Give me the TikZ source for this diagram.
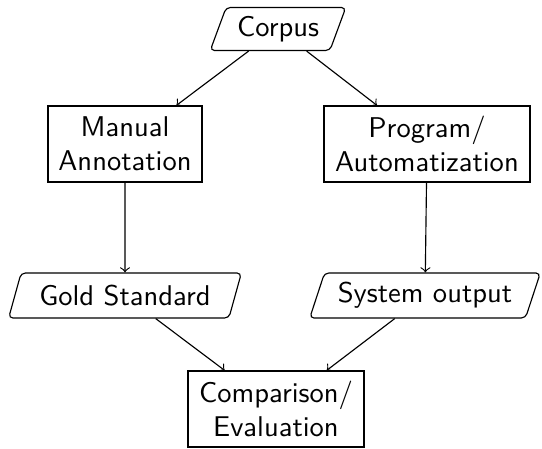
\documentclass[tikz,border=0pt]{standalone}
\usetikzlibrary{shapes.geometric}
\begin{document}
\begin{tikzpicture}[x=0.35pt,y=-0.35pt,
  font=\sffamily,
  box/.style={draw, rectangle, align=center, inner sep=0pt},
  para/.style={draw, trapezium, trapezium left angle=64, trapezium right angle=116,
    trapezium stretches=true, rounded corners=1.5pt, inner sep=0pt, align=center},
  arr/.style={->}]
\useasboundingbox (0,0) rectangle (542,448);
\node[para, minimum width={136*0.35pt}, minimum height={43*0.35pt}] (corpus) at (278,29) {Corpus};
\node[box, minimum width={154*0.35pt}, minimum height={76*0.35pt}] (manual) at (125,144) {Manual\\Annotation};
\node[box, minimum width={206*0.35pt}, minimum height={76*0.35pt}] (prog) at (427,144) {Program/\\Automatization};
\node[para, minimum width={234*0.35pt}, minimum height={45*0.35pt}] (gold) at (125,295.5) {Gold Standard};
\node[para, minimum width={232*0.35pt}, minimum height={45*0.35pt}] (sys) at (425,295.5) {System output};
\node[box, minimum width={176*0.35pt}, minimum height={76*0.35pt}] (comp) at (276,409) {Comparison/\\Evaluation};
\draw[arr] (corpus) -- (manual);
\draw[arr] (corpus) -- (prog);
\draw[arr] (manual) -- (gold);
\draw[arr] (prog) -- (sys);
\draw[arr] (gold) -- (comp);
\draw[arr] (sys) -- (comp);
\end{tikzpicture}
\end{document}
